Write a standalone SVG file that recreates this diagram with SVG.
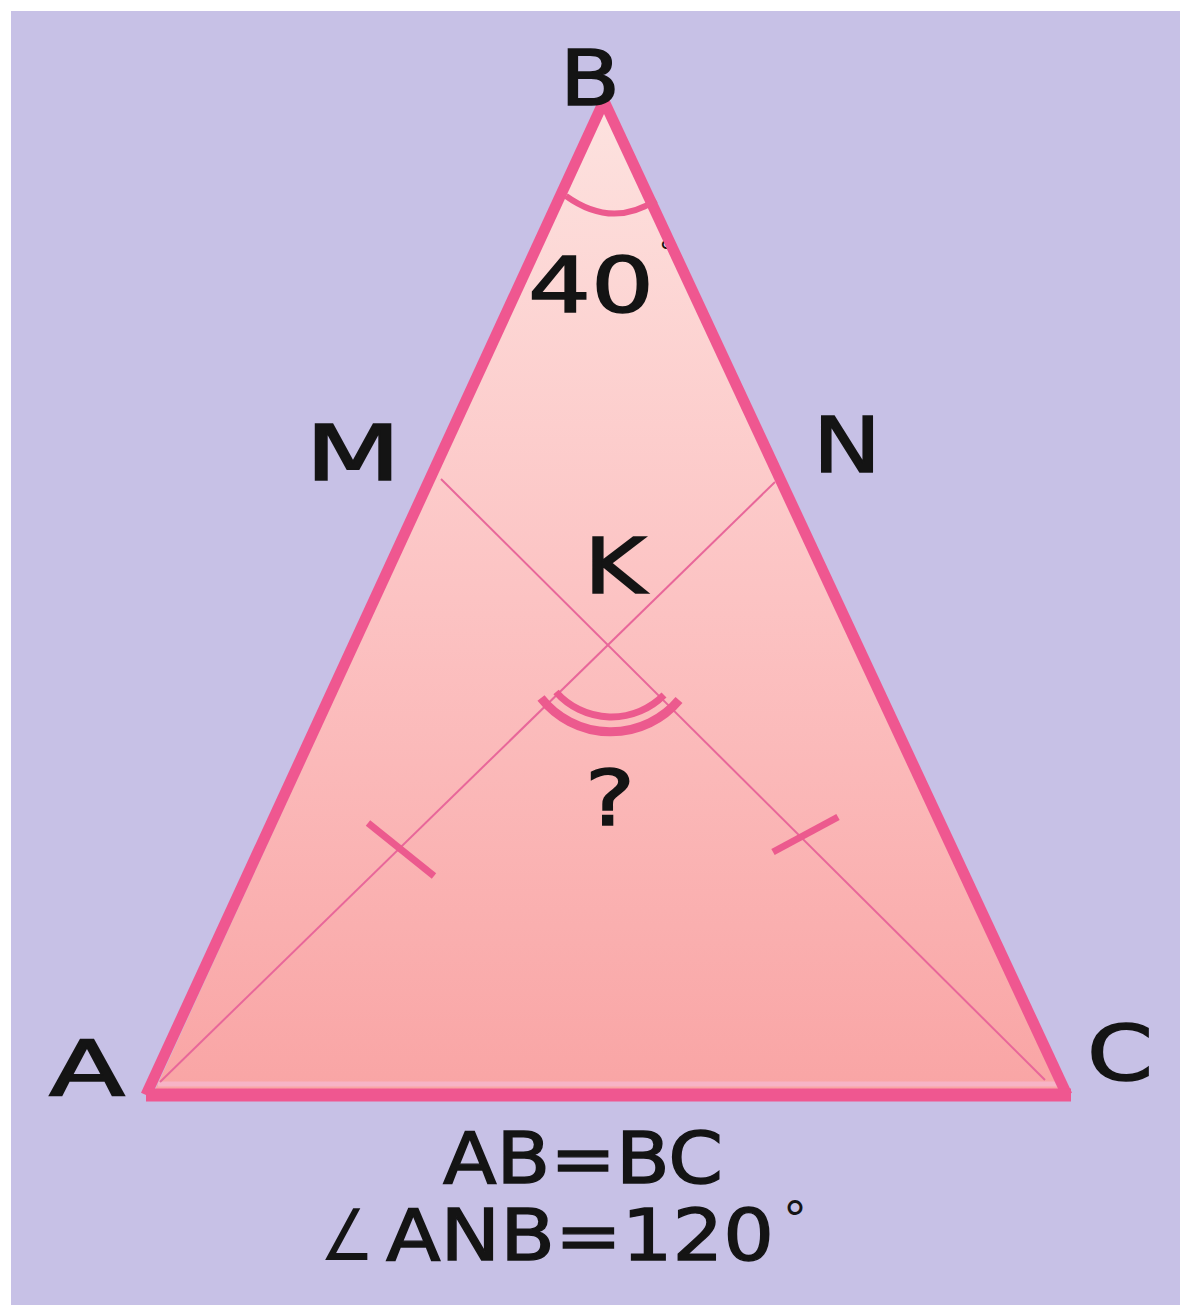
<svg xmlns="http://www.w3.org/2000/svg" width="1180" height="1305" viewBox="0 0 1180 1305">
<defs>
<linearGradient id="fillGrad" x1="0" y1="0" x2="0" y2="1">
<stop offset="0" stop-color="#fde2df"/>
<stop offset="0.5" stop-color="#fcc3c3"/>
<stop offset="1" stop-color="#f9a5a5"/>
</linearGradient>
<style>
.lbl{font-family:"DejaVu Sans","Liberation Sans",sans-serif;font-size:77px;fill:#141414;stroke:#141414;stroke-width:1.6px;}
.eq{font-family:"DejaVu Sans","Liberation Sans",sans-serif;font-size:71px;fill:#141414;stroke:#141414;stroke-width:1.4px;}
.side{stroke:#ef5790;stroke-width:11;stroke-linecap:butt;fill:none;}
.cev{stroke:#e8679a;stroke-width:2;fill:none;}
.mark{stroke:#ec5a8e;fill:none;}
</style>
</defs>
<rect x="0" y="0" width="1180" height="1305" fill="#ffffff"/>
<rect x="11" y="11" width="1169" height="1294" fill="#c7c1e6"/>
<g id="triangle-fill">
<polygon points="155,1090 604,108 1060,1090" fill="url(#fillGrad)"/>
<line x1="158" y1="1084" x2="1058" y2="1084" stroke="#f7b4c6" stroke-width="5"/>
</g>
<g id="angle-B-value">
<text class="lbl" x="591" y="312" text-anchor="middle" textLength="126" lengthAdjust="spacingAndGlyphs">40</text>
<text x="659" y="262" font-family="DejaVu Sans, sans-serif" font-size="30" fill="#141414">°</text>
</g>
<g id="connectors">
<line class="cev" x1="160" y1="1082" x2="775" y2="482"/>
<line class="cev" x1="1045" y1="1080" x2="441" y2="479"/>
<line class="side" x1="146" y1="1095" x2="604" y2="101"/>
<line class="side" x1="604" y1="101" x2="1067" y2="1095"/>
<line x1="146" y1="1095" x2="1071" y2="1095" stroke="#ef5790" stroke-width="13"/>
</g>
<g id="angle-marks">
<path class="mark" d="M566 196 Q612 229 656 200" stroke-width="6"/>
<path class="mark" d="M556 692 A74 74 0 0 0 664 695" stroke-width="7"/>
<path class="mark" d="M541 698 A89 89 0 0 0 679 700" stroke-width="9"/>
<line class="mark" x1="368" y1="823" x2="434" y2="876" stroke-width="7"/>
<line class="mark" x1="773" y1="852" x2="838" y2="817" stroke-width="7"/>
</g>
<g id="node-B"><text class="lbl" x="590" y="105" text-anchor="middle" textLength="60" lengthAdjust="spacingAndGlyphs">B</text></g>
<g id="node-M"><text class="lbl" x="353" y="480" text-anchor="middle" textLength="96" lengthAdjust="spacingAndGlyphs">M</text></g>
<g id="node-N"><text class="lbl" x="847" y="472" text-anchor="middle" textLength="68" lengthAdjust="spacingAndGlyphs">N</text></g>
<g id="node-K"><text class="lbl" x="615" y="593" text-anchor="middle" textLength="62" lengthAdjust="spacingAndGlyphs">K</text></g>
<g id="node-question"><text class="lbl" x="610" y="825" text-anchor="middle" textLength="50" lengthAdjust="spacingAndGlyphs">?</text></g>
<g id="node-A"><text class="lbl" x="87" y="1095" text-anchor="middle" textLength="76" lengthAdjust="spacingAndGlyphs">A</text></g>
<g id="node-C"><text class="lbl" x="1120" y="1080" text-anchor="middle" textLength="66" lengthAdjust="spacingAndGlyphs">C</text></g>
<g id="given">
<text class="eq" x="583" y="1183" text-anchor="middle" textLength="280" lengthAdjust="spacingAndGlyphs">AB=BC</text>
<text class="eq" y="1260"><tspan x="320" textLength="54" lengthAdjust="spacingAndGlyphs" stroke-width="0">∠</tspan><tspan x="386" textLength="388" lengthAdjust="spacingAndGlyphs">ANB=120</tspan><tspan x="783" y="1236" font-size="48" stroke-width="0">°</tspan></text>
</g>
</svg>
